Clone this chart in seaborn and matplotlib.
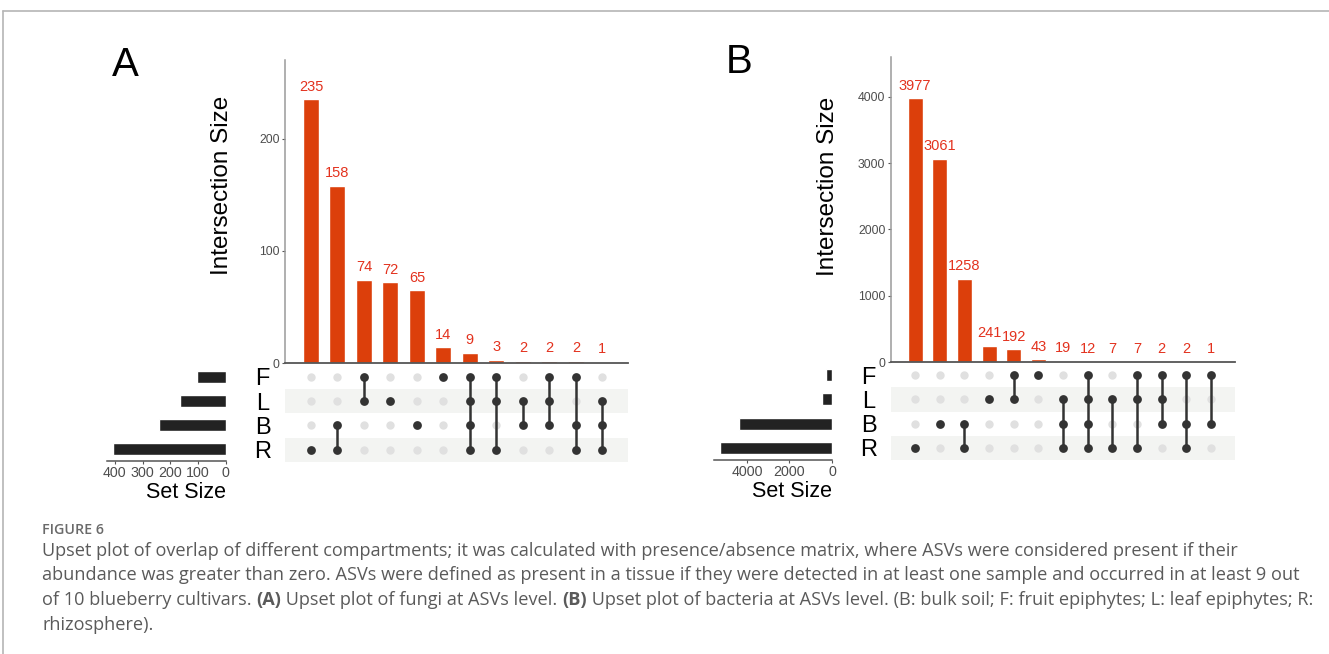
import numpy as np
import pandas as pd
import seaborn as sns
import matplotlib.pyplot as plt
from matplotlib.lines import Line2D
from matplotlib.ticker import MultipleLocator

sets = ['F', 'L', 'B', 'R']

# A: fungi, intersections in plotted order
fungi_counts = [235, 158, 74, 72, 65, 14, 9, 3, 2, 2, 2, 1]
fungi_members = ['R', 'BR', 'FL', 'L', 'B', 'F', 'FLBR', 'FLR', 'LB', 'FLB', 'FBR', 'LBR']

# B: bacteria
bact_counts = [3977, 3061, 1258, 241, 192, 43, 19, 12, 7, 7, 2, 2, 1]
bact_members = ['R', 'B', 'BR', 'L', 'FL', 'F', 'LBR', 'FLBR', 'LR', 'FLR', 'FLB', 'FBR', 'FB']

caption_title = 'FIGURE 6'
caption_lines = [
    [('Upset plot of overlap of different compartments; it was calculated with presence/absence matrix, '
      'where ASVs were considered present if their', False)],
    [('abundance was greater than zero. ASVs were defined as present in a tissue if they were detected '
      'in at least one sample and occurred in at least 9 out', False)],
    [('of 10 blueberry cultivars. ', False), ('(A)', True), (' Upset plot of fungi at ASVs level. ', False),
     ('(B)', True), (' Upset plot of bacteria at ASVs level. (B: bulk soil; F: fruit epiphytes; '
                     'L: leaf epiphytes; R:', False)],
    [('rhizosphere).', False)],
]

BAR = '#DC3F0B'
LAB = '#E3321E'
DARK = '#333333'
LIGHT = '#E0E0E0'
STRIP = '#F3F4F2'
TXT = '#4D4D4D'

sns.set_style('white')
plt.rcParams['font.family'] = ['Liberation Sans', 'DejaVu Sans']

W, H = 1329, 654
fig = plt.figure(figsize=(W / 100, H / 100), dpi=100)


def ax_px(x0, y0, x1, y1):
    return fig.add_axes([x0 / W, 1 - y1 / H, (x1 - x0) / W, (y1 - y0) / H])


def upset(counts, members, letter, bar_box, mat_box, set_box, letter_xy, ymax, ystep, sstep, label_y):
    n = len(counts)
    cols = np.arange(n)
    sizes = [sum(c for c, m in zip(counts, members) if s in m) for s in sets]

    # intersection bars
    ax = ax_px(*bar_box)
    df = pd.DataFrame({'col': cols, 'n': counts})
    sns.barplot(data=df, x='col', y='n', color=BAR, saturation=1, width=0.6, ax=ax)
    ax.bar_label(ax.containers[0], labels=[str(c) for c in counts], padding=4,
                 color=LAB, fontsize=10.5)
    ax.set_xlim(-0.98, n - 0.03)
    ax.set_ylim(0, ymax)
    ax.yaxis.set_major_locator(MultipleLocator(ystep))
    ax.set_xticks([])
    ax.set_xlabel('')
    ax.set_ylabel('')
    for s in ['top', 'right']:
        ax.spines[s].set_visible(False)
    ax.spines['left'].set_color('#9A9A9A')
    ax.spines['bottom'].set_color('#555555')
    ax.spines['left'].set_linewidth(1.1)
    ax.spines['bottom'].set_linewidth(1.3)
    ax.tick_params(axis='y', length=2.5, width=0.8, color='#555555', labelcolor=TXT,
                   labelsize=8.8, pad=1.5, left=True)
    ax.text(-0.183, label_y, 'Intersection Size', transform=ax.transAxes, rotation=90,
            ha='center', va='center', fontsize=17.5, color='black')

    # membership matrix
    mx = ax_px(*mat_box)
    for i in (1, 3):
        mx.axhspan(i - 0.5, i + 0.5, color=STRIP, zorder=0, lw=0)
    long = pd.DataFrame([(j, i, sets[i] in members[j]) for j in cols for i in range(4)],
                        columns=['col', 'row', 'on'])
    sns.scatterplot(data=long[~long.on], x='col', y='row', color=LIGHT, s=36,
                    linewidth=0, ax=mx, zorder=2)
    for j in cols:
        rows = [i for i in range(4) if sets[i] in members[j]]
        if len(rows) > 1:
            mx.plot([j, j], [min(rows), max(rows)], color=DARK, lw=1.8, zorder=3,
                    solid_capstyle='butt')
    sns.scatterplot(data=long[long.on], x='col', y='row', color=DARK, s=40,
                    linewidth=0, ax=mx, zorder=4)
    mx.set_xlim(-0.98, n - 0.03)
    mx.set_ylim(3.5, -0.5)
    mx.set_xticks([])
    mx.set_yticks(range(4))
    mx.set_yticklabels(sets, fontsize=17, color='black')
    for t in mx.get_yticklabels():
        t.set_ha('center')
    mx.tick_params(axis='y', length=0, pad=16)
    mx.set_xlabel('')
    mx.set_ylabel('')
    for s in mx.spines.values():
        s.set_visible(False)

    # set sizes
    sx = ax_px(*set_box)
    sdf = pd.DataFrame({'set': sets, 'size': sizes})
    sns.barplot(data=sdf, y='set', x='size', order=sets, orient='h', color='#222222',
                saturation=1, width=0.5, ax=sx)
    sx.set_xlim(max(sizes) * 1.05, 0)
    sx.set_ylim(3.5, -0.5)
    sx.xaxis.set_major_locator(MultipleLocator(sstep))
    sx.set_yticks([])
    sx.set_ylabel('')
    sx.set_xlabel('Set Size', fontsize=15.5, color='black')
    sx.xaxis.set_label_coords(1.0, -0.22)
    sx.xaxis.label.set_ha('right')
    for s in ['top', 'right', 'left']:
        sx.spines[s].set_visible(False)
    sx.spines['bottom'].set_color('#555555')
    sx.spines['bottom'].set_linewidth(1.1)
    sx.tick_params(axis='x', length=2.5, width=0.8, color='#555555', labelcolor=TXT,
                   labelsize=10.3, pad=1, bottom=True)

    fig.text(letter_xy[0] / W, 1 - letter_xy[1] / H, letter, fontsize=29,
             ha='center', va='center', color='black')


upset(fungi_counts, fungi_members, 'A',
      (285, 60, 628, 363), (285, 364.5, 628, 462), (107, 364.5, 225.6, 461),
      (125, 65), 270, 100, 100, 0.587)
upset(bact_counts, bact_members, 'B',
      (891, 57, 1235, 362), (891, 363, 1235, 460), (714, 363, 832, 460),
      (739, 62), 4600, 1000, 2000, 0.577)

# frame lines
fig.add_artist(Line2D([3 / W, 1], [1 - 11 / H] * 2, color='#B5B5B5', lw=1.2))
fig.add_artist(Line2D([3 / W] * 2, [0, 1 - 11 / H], color='#B5B5B5', lw=1.2))

# caption
cap_family = ['Open Sans', 'DejaVu Sans']
renderer = fig.canvas.get_renderer()
probe = fig.text(0, 0, caption_lines[0][0][0], fontsize=12, family=cap_family)
w0 = probe.get_window_extent(renderer).width
probe.remove()
cap_size = 12 * (1236 - 42) / w0

fig.text(42 / W, 1 - 530 / H, caption_title, fontsize=cap_size * 0.78, family=cap_family,
         color='#6A6A6A', weight='semibold', va='center')
for k, line in enumerate(caption_lines):
    x = 42.0
    y = 551 + k * 24.5
    for txt, bold in line:
        t = fig.text(x / W, 1 - y / H, txt, fontsize=cap_size, family=cap_family,
                     color='#5A5A5A', weight='bold' if bold else 'normal', va='center')
        x += t.get_window_extent(renderer).width

fig.savefig('out.png', dpi=100)
